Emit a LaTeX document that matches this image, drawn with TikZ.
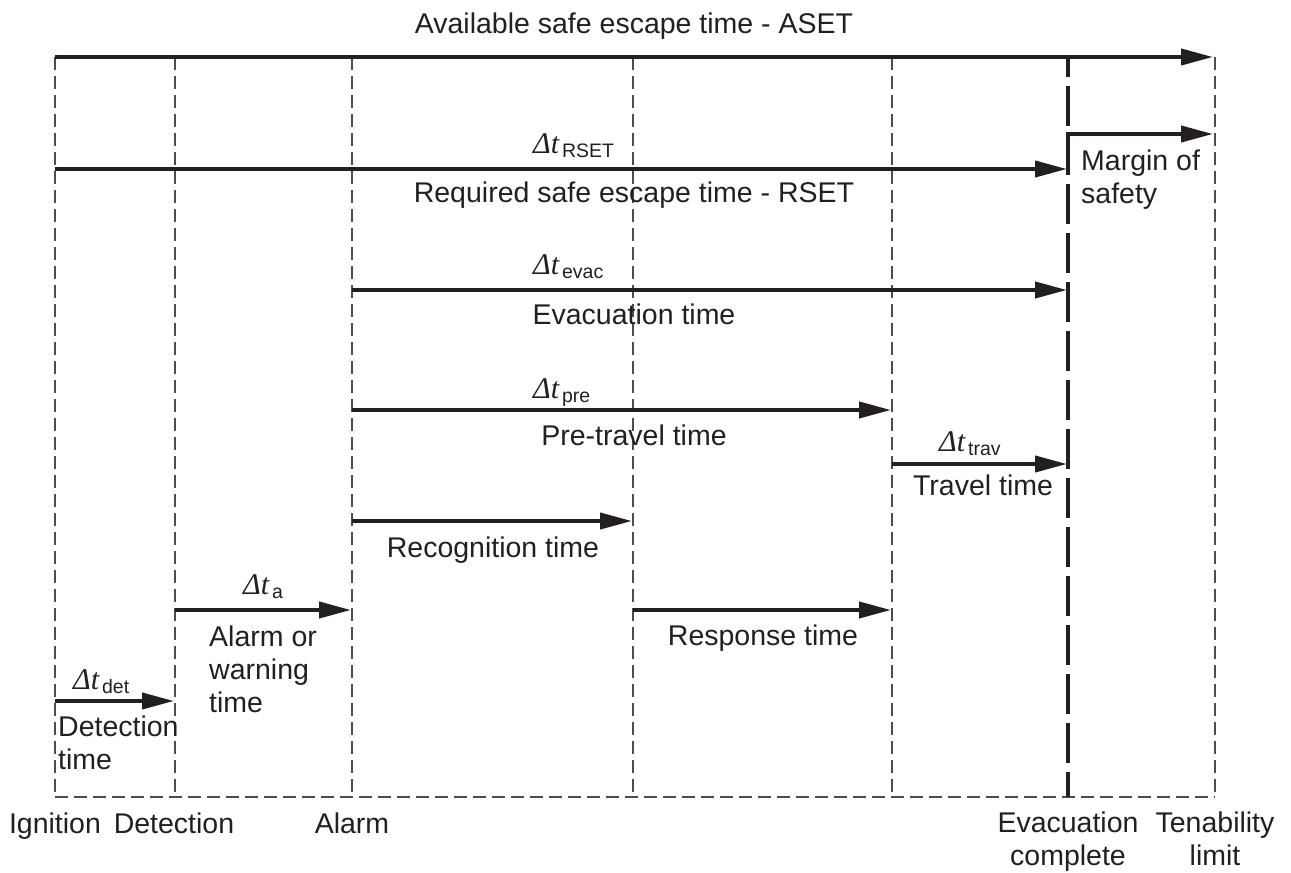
\documentclass[tikz,border=0pt]{standalone}
\usepackage{fontspec}
\setmainfont{Liberation Sans}
\newfontfamily\dtfont{Liberation Serif}
\usetikzlibrary{arrows.meta}
\definecolor{ink}{RGB}{35,31,32}
\newcommand{\dlab}[1]{{\dtfont\itshape Δt}\kern3pt\raisebox{-4pt}{\fontsize{19.5}{22}\selectfont #1}}

\begin{document}
\begin{tikzpicture}[x=1pt, y=-1pt,
    every node/.style={inner sep=0pt, text=ink, font=\fontsize{28.5}{33}\selectfont},
    dlabel/.style={anchor=base west, font=\fontsize{30}{32}\selectfont},
    span/.style={draw=ink, line width=4pt, -{Triangle[length=32pt, width=16pt]}},
    tline/.style={draw=ink!80, line width=1.8pt, dash pattern=on 13pt off 6pt},
    evline/.style={draw=ink, line width=4pt, dash pattern=on 40pt off 9pt, dash phase=20pt}]
    \useasboundingbox (0,0) rectangle (1291,873);

    \coordinate (ignT) at (55,57);     \coordinate (ignB) at (55,797);
    \coordinate (detT) at (175,57);    \coordinate (detB) at (175,797);
    \coordinate (alarmT) at (352,57);  \coordinate (alarmB) at (352,797);
    \coordinate (recogT) at (633,57);  \coordinate (recogB) at (633,797);
    \coordinate (preT) at (892,57);    \coordinate (preB) at (892,797);
    \coordinate (evacT) at (1068,57);  \coordinate (evacB) at (1068,797);
    \coordinate (tenabT) at (1215,57); \coordinate (tenabB) at (1215,797);

    \draw[tline] (ignB) -- (tenabB);
    \draw[tline] (ignT) -- (ignB);
    \draw[tline] (detT) -- (detB);
    \draw[tline] (alarmT) -- (alarmB);
    \draw[tline] (recogT) -- (recogB);
    \draw[tline] (preT) -- (preB);
    \draw[tline] (tenabT) -- (tenabB);
    \draw[evline] (evacT) -- (evacB);

    \coordinate (ignR) at (55,169);     \coordinate (evacR) at (1068,169);
    \coordinate (evacM0) at (1068,172); \coordinate (evacM) at (1068,134);
    \coordinate (tenabM) at (1215,134);
    \coordinate (alarmE) at (352,290);  \coordinate (evacE) at (1068,290);
    \coordinate (alarmP) at (352,410);  \coordinate (preP) at (892,410);
    \coordinate (preV) at (892,464);    \coordinate (evacV) at (1068,464);
    \coordinate (alarmR) at (352,521);  \coordinate (recogR) at (633,521);
    \coordinate (recogS) at (633,610);  \coordinate (preS) at (892,610);
    \coordinate (detA) at (175,610);    \coordinate (alarmA) at (352,610);
    \coordinate (ignD) at (55,701);     \coordinate (detD) at (175,701);

    \draw[span, shorten >=2pt] (ignT) -- (tenabT);
    \draw[span, shorten >=1pt] (ignR) -- (evacR);
    \draw[span, shorten >=2pt] (evacM0) -- (evacM) -- (tenabM);
    \draw[span, shorten >=1pt] (alarmE) -- (evacE);
    \draw[span, shorten >=1pt] (alarmP) -- (preP);
    \draw[span, shorten >=1pt] (preV) -- (evacV);
    \draw[span, shorten >=1pt] (alarmR) -- (recogR);
    \draw[span, shorten >=1pt] (recogS) -- (preS);
    \draw[span, shorten >=1pt] (detA) -- (alarmA);
    \draw[span, shorten >=1pt] (ignD) -- (detD);

    \node[anchor=base] (aset) at (634,33) {Available safe escape time - ASET};
    \node[dlabel] (dtrset) at (533,153) {\dlab{RSET}};
    \node[anchor=base] (rset) at (634,202) {Required safe escape time - RSET};
    \node[anchor=base west, align=left] (margin) at (1081,203) {Margin of\\safety};
    \node[dlabel] (dtevac) at (533,274) {\dlab{evac}};
    \node[anchor=base] (evactime) at (634,324) {Evacuation time};
    \node[dlabel] (dtpre) at (533,398) {\dlab{pre}};
    \node[anchor=base] (pretime) at (634,445) {Pre-travel time};
    \node[dlabel] (dttrav) at (939,451) {\dlab{trav}};
    \node[anchor=base] (travtime) at (983,495) {Travel time};
    \node[anchor=base] (recogtime) at (493,557) {Recognition time};
    \node[dlabel] (dta) at (243,594) {\dlab{a}};
    \node[anchor=base west, align=left] (alarmtime) at (209,712) {Alarm or\\warning\\time};
    \node[anchor=base] (resptime) at (763,645) {Response time};
    \node[dlabel] (dtdet) at (73,689) {\dlab{det}};
    \node[anchor=base west, align=left] (dettime) at (58,769) {Detection\\time};

    \node[anchor=base] (ignlab) at (55,833) {Ignition};
    \node[anchor=base] (detlab) at (174,833) {Detection};
    \node[anchor=base] (alarmlab) at (352,833) {Alarm};
    \node[anchor=base, align=center] (evaclab) at (1068,865) {Evacuation\\complete};
    \node[anchor=base, align=center] (tenablab) at (1215,865) {Tenability\\limit};
\end{tikzpicture}
\end{document}
